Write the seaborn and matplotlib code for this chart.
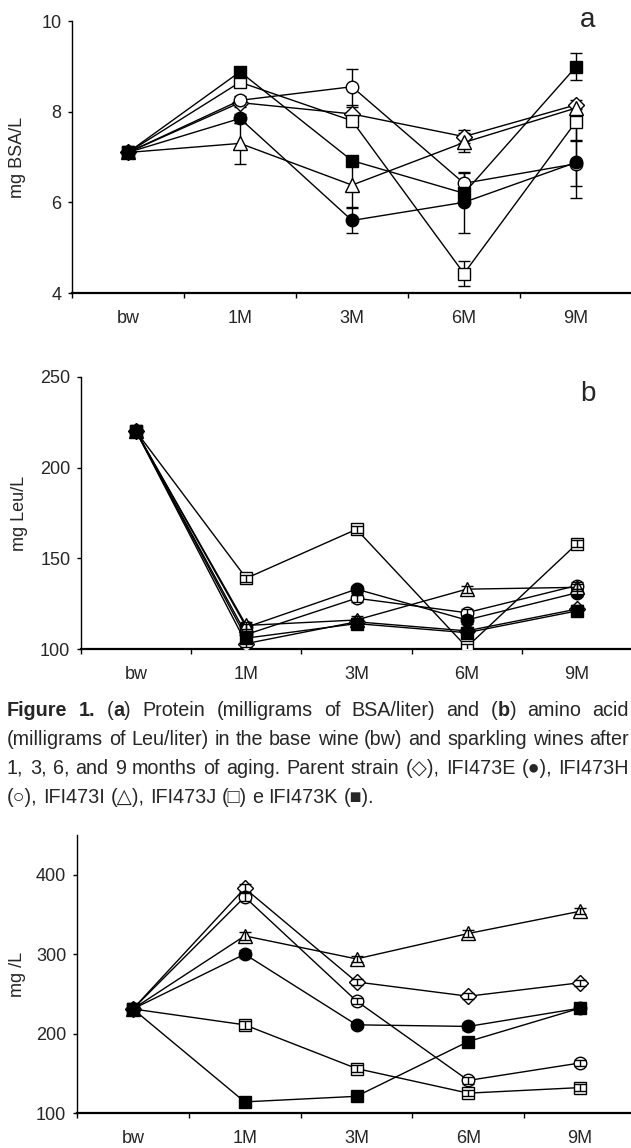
import matplotlib
matplotlib.use("Agg")
import matplotlib.pyplot as plt
from matplotlib.ticker import FixedLocator
import numpy as np
import seaborn as sns

# sampling times (x categories)
months = ['bw', '1M', '3M', '6M', '9M']

# (a) protein, mg BSA/L
bsa_parent = [7.1, 8.2, 7.95, 7.45, 8.15]
bsa_e = [7.1, 7.85, 5.6, 6.0, 6.88]
bsa_h = [7.1, 8.25, 8.55, 6.42, 6.85]
bsa_i = [7.1, 7.3, 6.38, 7.32, 8.08]
bsa_j = [7.1, 8.65, 7.8, 4.43, 7.78]
bsa_k = [7.1, 8.88, 6.92, 6.2, 8.99]
bsa_err_parent = [0.0, 0.1, 0.15, 0.15, 0.1]
bsa_err_e = [0.0, 0.1, 0.27, 0.68, 0.78]
bsa_err_h = [0.0, 0.1, 0.4, 0.23, 0.5]
bsa_err_i = [0.0, 0.45, 0.48, 0.22, 0.1]
bsa_err_j = [0.0, 0.1, 0.1, 0.27, 0.4]
bsa_err_k = [0.0, 0.1, 0.1, 0.1, 0.3]

# (b) amino acids, mg Leu/L
leu_parent = [220, 103, 115, 110, 122]
leu_e = [220, 112, 133, 116, 131]
leu_h = [220, 108, 128, 120, 135]
leu_i = [220, 113, 116, 133, 134]
leu_j = [220, 139, 166, 101, 158]
leu_k = [220, 106, 114, 109, 121]
leu_err = [0, 2, 2, 2, 2]

# (c) mg/L
mgl_parent = [231, 383, 265, 247, 264]
mgl_e = [231, 300, 211, 209, 232]
mgl_h = [231, 372, 241, 141, 163]
mgl_i = [231, 323, 294, 326, 354]
mgl_j = [231, 211, 156, 125, 132]
mgl_k = [231, 114, 121, 190, 232]
mgl_err = [0, 5, 4, 4, 4]

# drawing order: parent, H, E, I, J, K  -> (marker, face colour)
styles = [('D', 'white'), ('o', 'white'), ('o', 'black'),
          ('^', 'white'), ('s', 'white'), ('s', 'black')]
msizes = {'D': 8.0, 'o': 9.0, '^': 9.5, 's': 9.0}
fs = 13

sns.set_theme(style='white')
plt.rcParams['font.family'] = ['Liberation Sans', 'DejaVu Sans']

W, H = 631, 1148
fig = plt.figure(figsize=(W / 100, H / 100), dpi=100)


def px_axes(left, top, right, bottom):
    return fig.add_axes([left / W, 1 - bottom / H, (right - left) / W, (bottom - top) / H])


def draw_panel(ax, series, errs, ylim, yticks, ylabel, ylab_px, err_on_top):
    x = np.arange(len(months))
    for vals, err, (mk, fc) in zip(series, errs, styles):
        sns.lineplot(x=x, y=vals, ax=ax, color='black', linewidth=1.0,
                     marker=mk, markersize=msizes[mk], markerfacecolor=fc,
                     markeredgecolor='black', markeredgewidth=1.0,
                     errorbar=None, zorder=3)
        ax.errorbar(x[1:], vals[1:], yerr=err[1:], fmt='none', ecolor='black',
                    elinewidth=1.0, capsize=4.5, capthick=1.0,
                    zorder=4 if err_on_top else 2)
    ax.set_xlim(-0.5, 4.5)
    ax.set_ylim(*ylim)
    ax.set_yticks(yticks)
    ax.set_xticks(x)
    ax.set_xticklabels(months)
    ax.xaxis.set_minor_locator(FixedLocator(np.arange(-0.5, 5.0, 1.0)))
    ax.tick_params(axis='x', which='major', length=0, pad=12, labelsize=fs)
    ax.tick_params(axis='x', which='minor', length=3.5, width=1.0, direction='out',
                   bottom=True, color='black')
    ax.tick_params(axis='y', which='major', length=3.2, width=1.0, direction='out',
                   left=True, pad=4.5, labelsize=fs, color='black')
    for s in ['top', 'right']:
        ax.spines[s].set_visible(False)
    ax.spines['left'].set_color('black')
    ax.spines['left'].set_linewidth(1.0)
    ax.spines['bottom'].set_color('black')
    ax.spines['bottom'].set_linewidth(1.6)
    ax.set_xlabel('')
    ax.set_ylabel(ylabel, fontsize=fs)
    pos = ax.get_position()
    ax.yaxis.set_label_coords((ylab_px / W - pos.x0) / pos.width, 0.5)
    ax.set_facecolor('none')


ax_a = px_axes(72, 21, 632, 293)
draw_panel(ax_a, [bsa_parent, bsa_h, bsa_e, bsa_i, bsa_j, bsa_k],
           [bsa_err_parent, bsa_err_h, bsa_err_e, bsa_err_i, bsa_err_j, bsa_err_k],
           (4, 10), [4, 6, 8, 10], 'mg BSA/L', 26, False)
fig.text(588 / W, 1 - 20 / H, 'a', fontsize=20, ha='center', va='center')

ax_b = px_axes(81, 377, 632, 649)
draw_panel(ax_b, [leu_parent, leu_h, leu_e, leu_i, leu_j, leu_k],
           [leu_err] * 6, (100, 250), [100, 150, 200, 250], 'mg Leu/L', 28, True)
fig.text(588 / W, 1 - 394 / H, 'b', fontsize=20, ha='center', va='center')

ax_c = px_axes(77, 835, 636, 1113)
draw_panel(ax_c, [mgl_parent, mgl_h, mgl_e, mgl_i, mgl_j, mgl_k],
           [mgl_err] * 6, (100, 450), [100, 200, 300, 400], 'mg /L', 26, True)

# caption, justified like the printed page
cap_font = ['Liberation Sans', 'DejaVu Sans']
N, B = 'normal', 'bold'
caption = [
    ([[('Figure', B)], [('1.', B)], [('(', N), ('a', B), (')', N)], [('Protein', N)],
      [('(milligrams', N)], [('of', N)], [('BSA/liter)', N)], [('and', N)],
      [('(', N), ('b', B), (')', N)], [('amino', N)], [('acid', N)]], 716, True),
    ([[('(milligrams', N)], [('of', N)], [('Leu/liter)', N)], [('in', N)], [('the', N)],
      [('base', N)], [('wine', N)], [('(bw)', N)], [('and', N)], [('sparkling', N)],
      [('wines', N)], [('after', N)]], 745, True),
    ([[('1,', N)], [('3,', N)], [('6,', N)], [('and', N)], [('9', N)], [('months', N)],
      [('of', N)], [('aging.', N)], [('Parent', N)], [('strain', N)], [('(\u25c7),', N)],
      [('IFI473E', N)], [('(\u25cf),', N)], [('IFI473H', N)]], 774, True),
    ([[('(\u25cb),', N)], [('IFI473I', N)], [('(\u25b3),', N)], [('IFI473J', N)],
      [('(\u25a1)', N)], [('e', N)], [('IFI473K', N)], [('(\u25a0).', N)]], 803, False),
]

renderer = fig.canvas.get_renderer()


def seg_width(s, wt, size):
    t = fig.text(0, 0, s, fontsize=size, fontweight=wt, family=cap_font)
    w = t.get_window_extent(renderer).width
    t.remove()
    return w


x_left, x_right = 7, 629

# largest size at which every justified line still fits with normal spaces
cap_size = 15.5
while cap_size > 9:
    sp = seg_width('a a', N, cap_size) - seg_width('aa', N, cap_size)
    ok = True
    for words, _, justify in caption:
        tot = sum(seg_width(s, wt, cap_size) for w in words for s, wt in w)
        if tot + sp * 1.05 * (len(words) - 1) > x_right - x_left:
            ok = False
    if ok:
        break
    cap_size -= 0.25

space_w = seg_width('a a', N, cap_size) - seg_width('aa', N, cap_size)
for words, base_y, justify in caption:
    widths = [[seg_width(s, wt, cap_size) for s, wt in w] for w in words]
    totals = [sum(ws) for ws in widths]
    if justify:
        gap = (x_right - x_left - sum(totals)) / (len(words) - 1)
    else:
        gap = space_w
    x = x_left
    for w, ws in zip(words, widths):
        xx = x
        for (s, wt), sw in zip(w, ws):
            fig.text(xx / W, 1 - base_y / H, s, fontsize=cap_size, fontweight=wt,
                     family=cap_font, ha='left', va='baseline')
            xx += sw
        x += sum(ws) + gap

fig.savefig('out.png', dpi=100, facecolor='white')
